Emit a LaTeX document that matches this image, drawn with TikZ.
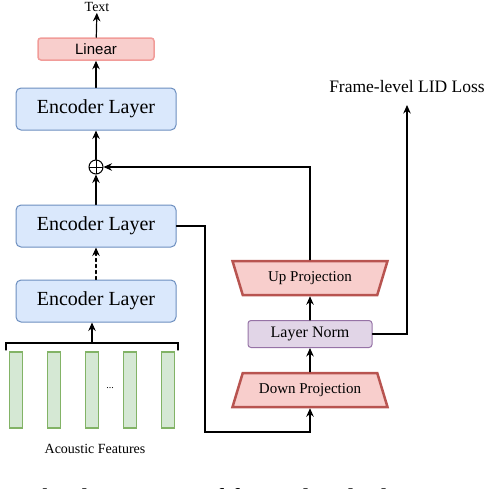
\documentclass[tikz,border=0pt]{standalone}
\usepackage{fontspec}
\setmainfont{Liberation Serif}
\setsansfont{Liberation Sans}
\usetikzlibrary{arrows.meta,shapes.geometric}

\definecolor{encfill}{HTML}{DAE8FC}
\definecolor{encdraw}{HTML}{6C8EBF}
\definecolor{redfill}{HTML}{F8CECC}
\definecolor{lindraw}{HTML}{F19C99}
\definecolor{projdraw}{HTML}{B85450}
\definecolor{normfill}{HTML}{E1D5E7}
\definecolor{normdraw}{HTML}{9673A6}
\definecolor{featfill}{HTML}{D5E8D4}
\definecolor{featdraw}{HTML}{82B366}

\tikzset{
  encbox/.style={draw=encdraw, fill=encfill, rounded corners=5pt, line width=1pt,
    minimum width=160pt, minimum height=42pt, font=\fontsize{20}{24}\selectfont},
  linbox/.style={draw=lindraw, fill=redfill, rounded corners=3pt, line width=1.5pt,
    minimum width=116pt, minimum height=22pt, font=\sffamily\fontsize{15}{18}\selectfont},
  projbox/.style={trapezium, trapezium stretches body, trapezium angle=52,
    draw=projdraw, fill=redfill, line width=2.5pt, inner sep=0pt,
    minimum width=155pt, minimum height=34pt, font=\fontsize{15}{18}\selectfont},
  normbox/.style={draw=normdraw, fill=normfill, rounded corners=3pt, line width=1pt,
    minimum width=124pt, minimum height=27pt, font=\fontsize{16}{19}\selectfont},
  featbox/.style={draw=featdraw, fill=featfill, line width=1.3pt, inner sep=0pt,
    minimum width=13pt, minimum height=76pt},
  legende/.style={font=\fontsize{14}{17}\selectfont, inner sep=1pt},
  somme/.style={circle, draw, line width=1pt, minimum size=14pt, inner sep=0pt,
    path picture={\draw[line width=1pt] (path picture bounding box.north) -- (path picture bounding box.south)
      (path picture bounding box.west) -- (path picture bounding box.east);}},
  fleche/.style={->, line width=1.2pt},
}

\begin{document}
\begin{tikzpicture}[x=1pt, y=-1pt, line cap=round, >={Stealth[length=8.5pt,width=7.5pt]}]

\useasboundingbox (0,0) rectangle (500,488);

%% Colonne de l'encodeur.

\node[legende] (text) at (97,7) {Text};
\node[linbox] (linear) at (96,49) {Linear};
\node[encbox] (enc3) at (96,109) {Encoder Layer};
\node[somme] (sum) at (96,167) {};
\node[encbox] (enc2) at (96,226) {Encoder Layer};
\node[encbox] (enc1) at (96,301) {Encoder Layer};

\draw[fleche] (linear) -- (text);
\draw[fleche] (enc3) -- (linear);
\draw[fleche] (sum) -- (enc3);
\draw[fleche] (enc2) -- (sum);
\draw[fleche, dashed] (enc1) -- (enc2);

%% Les trames acoustiques.

\foreach \i in {0,...,4}
  \node[featbox] (feat\i) at (16+38*\i,390) {};
\node[font=\fontsize{10}{12}\selectfont] (dots) at (110,388) {...};
\node[legende] (acoustic) at (95,449) {Acoustic Features};

\coordinate (brace) at (92,343);
\draw[line width=1.2pt] (6,350) -- (6,343) -- (178,343) -- (178,350);
\draw[fleche] (brace) -- (brace |- enc1.south);

%% L'adaptateur.

\node[projbox] (down) at (310,390) {Down Projection};
\node[normbox] (norm) at (310,334) {Layer Norm};
\node[projbox, shape border rotate=180] (up) at (310,278) {Up Projection};
\node[font=\fontsize{17.5}{21}\selectfont] (loss) at (407,87) {Frame-level LID Loss};
\coordinate (lossend) at (407,105);
\coordinate (detour) at (205,432);

\draw[fleche] (enc2.east) -| (detour) -| (down.south);
\draw[fleche] (down) -- (norm);
\draw[fleche] (norm) -- (up);
\draw[fleche] (up.north) |- (sum.east);
\draw[fleche] (norm.east) -| (lossend);

%% Légende coupée.

\begin{scope}
\clip (0,0) rectangle (500,488);
\node[anchor=base west, inner sep=0pt, font=\fontsize{27}{32}\selectfont] (caption) at (-1,507)
  {\textbf{2.}\ The description of frame-level adapter};
\end{scope}

\end{tikzpicture}
\end{document}
